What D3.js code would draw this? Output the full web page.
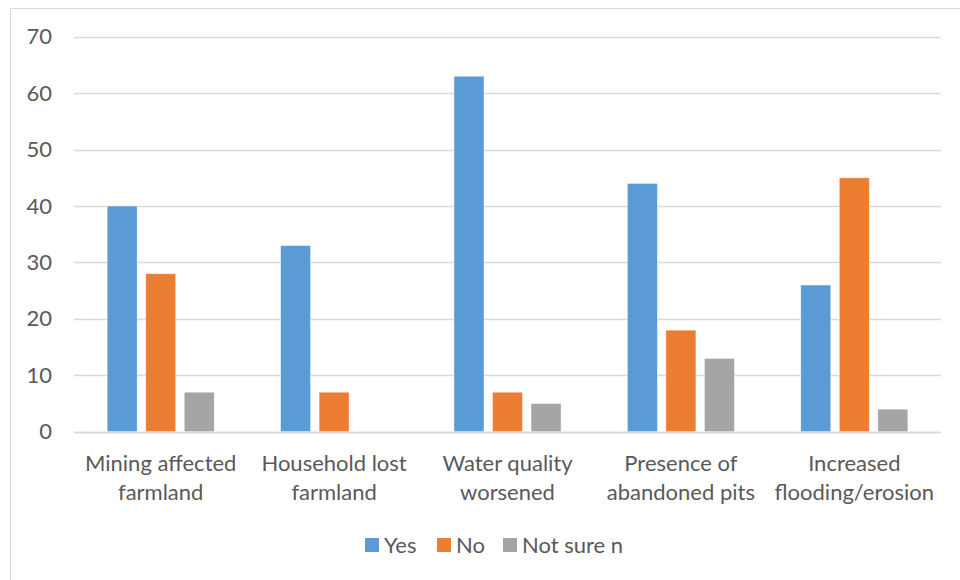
<!DOCTYPE html>
<html>
<head>
<meta charset="utf-8">
<script src="https://cdn.jsdelivr.net/npm/d3@7"></script>
<style>
  html, body { margin: 0; padding: 0; background: #fff; }
  svg { display: block; }
  text { font-family: Lato, "Open Sans", sans-serif; fill: #595959; }
</style>
</head>
<body>
<svg id="chart" width="960" height="580"></svg>
<script>
// Survey responses per impact question
const categories = [
  ["Mining affected", "farmland"],
  ["Household lost", "farmland"],
  ["Water quality", "worsened"],
  ["Presence of", "abandoned pits"],
  ["Increased", "flooding/erosion"]
];
const seriesNames = ["Yes", "No", "Not sure n"];
const yesValues = [40, 33, 63, 44, 26];
const noValues = [28, 7, 7, 18, 45];
const notSureValues = [7, 0, 5, 13, 4];
const yTicks = [0, 10, 20, 30, 40, 50, 60, 70];
const colors = ["#5B9BD5", "#ED7D31", "#A5A5A5"];

const series = [yesValues, noValues, notSureValues];
const svg = d3.select("#chart");
const fontSize = 22;

// chart frame
svg.append("path")
  .attr("d", "M10.5,580 L10.5,8.5 L960,8.5")
  .attr("fill", "none")
  .attr("stroke", "#D9D9D9")
  .attr("stroke-width", 1);

const plot = { left: 74, right: 941, top: 36.7, bottom: 431.7 };

const x0 = d3.scaleBand()
  .domain(d3.range(categories.length))
  .range([plot.left, plot.right])
  .paddingInner(0).paddingOuter(0);

const x1 = d3.scaleBand()
  .domain(d3.range(seriesNames.length))
  .range([0, x0.bandwidth()])
  .paddingInner(0.22)
  .paddingOuter(0.86);

const y = d3.scaleLinear().domain([0, 70]).range([plot.bottom, plot.top]);

// gridlines
svg.append("g")
  .selectAll("line")
  .data(yTicks)
  .join("line")
  .attr("x1", plot.left).attr("x2", plot.right)
  .attr("y1", d => Math.round(y(d)) + 0.5)
  .attr("y2", d => Math.round(y(d)) + 0.5)
  .attr("stroke", "#D9D9D9")
  .attr("stroke-width", 1.3);

// y-axis labels
const yAxis = d3.axisLeft(y).tickValues(yTicks).tickSize(0).tickPadding(0);
const yg = svg.append("g")
  .attr("transform", `translate(52,0)`)
  .call(yAxis);
yg.select(".domain").remove();
yg.selectAll("text")
  .attr("font-family", "Lato, 'Open Sans', sans-serif")
  .attr("font-size", fontSize)
  .attr("fill", "#595959");

// bars
const groups = svg.append("g")
  .selectAll("g")
  .data(categories.map((c, i) => i))
  .join("g")
  .attr("transform", i => `translate(${x0(i)},0)`);

groups.selectAll("rect")
  .data(i => series.map((s, k) => ({ k, v: s[i] })).filter(d => d.v > 0))
  .join("rect")
  .attr("x", d => x1(d.k))
  .attr("width", x1.bandwidth())
  .attr("y", d => y(d.v))
  .attr("height", d => y(0) - y(d.v))
  .attr("fill", d => colors[d.k])
  .attr("stroke", "#fff")
  .attr("stroke-opacity", 0.6)
  .attr("stroke-width", 0.8);

// baseline
svg.append("line")
  .attr("x1", plot.left).attr("x2", plot.right)
  .attr("y1", Math.round(y(0)) + 0.5).attr("y2", Math.round(y(0)) + 0.5)
  .attr("stroke", "#D9D9D9")
  .attr("stroke-width", 1.5);

// category labels
const catLabels = svg.append("g")
  .selectAll("text")
  .data(categories)
  .join("text")
  .attr("text-anchor", "middle")
  .attr("font-size", fontSize)
  .attr("transform", (d, i) => `translate(${x0(i) + x0.bandwidth() / 2},471)`);
catLabels.selectAll("tspan")
  .data(d => d)
  .join("tspan")
  .attr("x", 0)
  .attr("dy", (d, j) => j === 0 ? 0 : 28.5)
  .text(d => d);

// legend
const legendX = [365, 437, 503];
const legend = svg.append("g")
  .selectAll("g")
  .data(seriesNames)
  .join("g")
  .attr("transform", (d, i) => `translate(${legendX[i]},538)`);
legend.append("rect")
  .attr("width", 14).attr("height", 14)
  .attr("fill", (d, i) => colors[i]);
legend.append("text")
  .attr("x", 19).attr("y", 14.5)
  .attr("font-size", fontSize)
  .text(d => d);
</script>
</body>
</html>
